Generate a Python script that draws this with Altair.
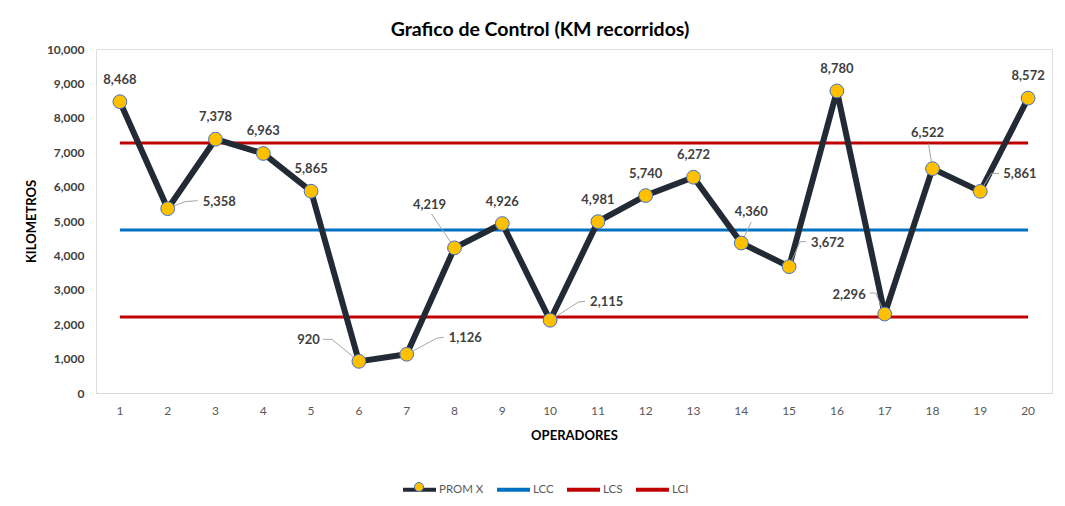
import altair as alt
import pandas as pd

# ---- data ----
operadores = list(range(1, 21))
prom_x = [8468, 5358, 7378, 6963, 5865, 920, 1126, 4219, 4926, 2115,
          4981, 5740, 6272, 4360, 3672, 8780, 2296, 6522, 5861, 8572]
lcc_value = 4740
lcs_value = 7268
lci_value = 2210
series_names = ["PROM X", "LCC", "LCS", "LCI"]
series_colors = ["#222A35", "#0070C0", "#C00000", "#C00000"]

df = pd.DataFrame({"op": operadores, "val": prom_x, "serie": "PROM X"})
limits = pd.concat([
    pd.DataFrame({"op": operadores, "val": [v] * len(operadores), "serie": s})
    for s, v in [("LCC", lcc_value), ("LCS", lcs_value), ("LCI", lci_value)]
])

FONT = "Lato"
LABEL_COLOR = "#404040"

x_enc = alt.X("op:O", title="OPERADORES",
              axis=alt.Axis(labelAngle=0, domainColor="#D9D9D9", domainWidth=1,
                            ticks=False, labelPadding=12, labelFontSize=12,
                            labelColor="#595959", labelFont=FONT,
                            titleFont=FONT, titleFontSize=13, titleFontWeight="bold",
                            titleColor="#000000", titlePadding=13))
y_scale = alt.Scale(domain=[0, 10000], nice=False)
y_enc = alt.Y("val:Q", title="KILOMETROS", scale=y_scale,
              axis=alt.Axis(values=list(range(0, 10001, 1000)), format=",.0f",
                            grid=False, domain=False, ticks=False, labelPadding=12,
                            labelFontSize=12, labelFontWeight="bold",
                            labelColor="#404040", labelFont=FONT,
                            titleFont=FONT, titleFontSize=13, titleFontWeight="bold",
                            titleColor="#000000", titlePadding=8))

color_scale = alt.Scale(domain=series_names, range=series_colors)

limit_lines = alt.Chart(limits).mark_line(strokeWidth=3).encode(
    x=x_enc, y=y_enc,
    color=alt.Color("serie:N", scale=color_scale,
                    legend=alt.Legend(title=None, orient="none", direction="horizontal",
                                      legendX=305, legendY=422, symbolType="stroke",
                                      symbolSize=1089, symbolStrokeWidth=4,
                                      labelFont=FONT, labelFontSize=11.5,
                                      labelColor="#595959", columnPadding=5,
                                      labelOffset=1)),
    detail="serie:N",
)

main_line = alt.Chart(df).mark_line(strokeWidth=6, color="#222A35",
                                    strokeJoin="round").encode(
    x=x_enc, y=y_enc, color=alt.Color("serie:N", scale=color_scale, legend=None))

points = alt.Chart(df).mark_point(filled=True, size=190, stroke="#4472C4",
                                  strokeWidth=1, opacity=1).encode(
    x=x_enc, y=y_enc,
    fill=alt.Fill("serie:N", scale=alt.Scale(domain=["PROM X"], range=["#FFC000"]),
                  legend=alt.Legend(title=None, orient="none", legendX=317, legendY=432,
                                    symbolType="circle", symbolSize=80,
                                    symbolStrokeColor="#4472C4", symbolStrokeWidth=1,
                                    labelExpr="''", labelFontSize=12)),
)

# label layout: operator -> (dx, dy, align), leader (A) and horizontal end (B)
label_layout = {
    1: (0, -22, "center", None, None),
    2: (35, -7, "left", (17, -7), (30, -8)),
    3: (0, -22, "center", None, None),
    4: (0, -22, "center", None, None),
    5: (0, -22, "center", None, None),
    6: (-39, -21, "right", (-27, -22), (-36, -22)),
    7: (42, -16, "left", (30, -16), (37, -17)),
    8: (-25, -43, "center", (-23, -34), None),
    9: (0, -22, "center", None, None),
    10: (40, -18, "left", (28, -18), (35, -19)),
    11: (0, -22, "center", None, None),
    12: (0, -22, "center", None, None),
    13: (0, -22, "center", None, None),
    14: (10, -31, "center", (10, -21), None),
    15: (22, -24, "left", (11, -25), (17, -25)),
    16: (0, -22, "center", None, None),
    17: (-19, -19, "right", (-9, -21), (-15, -21)),
    18: (-5, -36, "center", (-4, -25), None),
    19: (23, -17, "left", (11, -18), (19, -18)),
    20: (0, -22, "center", None, None),
}

layers = [limit_lines, main_line]
leader_layers = []
text_layers = []
for op, (dx, dy, align, a, b) in label_layout.items():
    base = alt.Chart(df).transform_filter(alt.datum.op == op)
    text_layers.append(base.mark_text(dx=dx, dy=dy, align=align, baseline="middle",
                                      font=FONT, fontSize=13, fontWeight="bold",
                                      color=LABEL_COLOR).encode(
        x=x_enc, y=y_enc, text=alt.Text("val:Q", format=",")))
    if a is not None:
        leader_layers.append(base.mark_rule(color="#A6A6A6", strokeWidth=1,
                                            x2Offset=a[0], y2Offset=a[1]).encode(
            x=x_enc, y=y_enc, x2=alt.X2("op:O"), y2=alt.Y2("val:Q")))
        if b is not None:
            leader_layers.append(base.mark_rule(color="#A6A6A6", strokeWidth=1,
                                                xOffset=a[0], yOffset=a[1],
                                                x2Offset=b[0], y2Offset=b[1]).encode(
                x=x_enc, y=y_enc, x2=alt.X2("op:O"), y2=alt.Y2("val:Q")))

chart = alt.layer(*layers, *leader_layers, points, *text_layers).resolve_scale(
    color="shared"
).properties(
    width=956, height=344,
    title=alt.TitleParams("Grafico de Control (KM recorridos)", font=FONT,
                          fontSize=19.5, fontWeight="bold", color="#000000",
                          anchor="middle", dx=-34, offset=3),
    autosize=alt.AutoSizeParams(type="none"),
    padding={"left": 88, "top": 41, "right": 4, "bottom": 105},
).configure_view(stroke=None).configure(background="#FFFFFF")

chart.save("out.html", embed_options={"renderer": "svg", "actions": False})
